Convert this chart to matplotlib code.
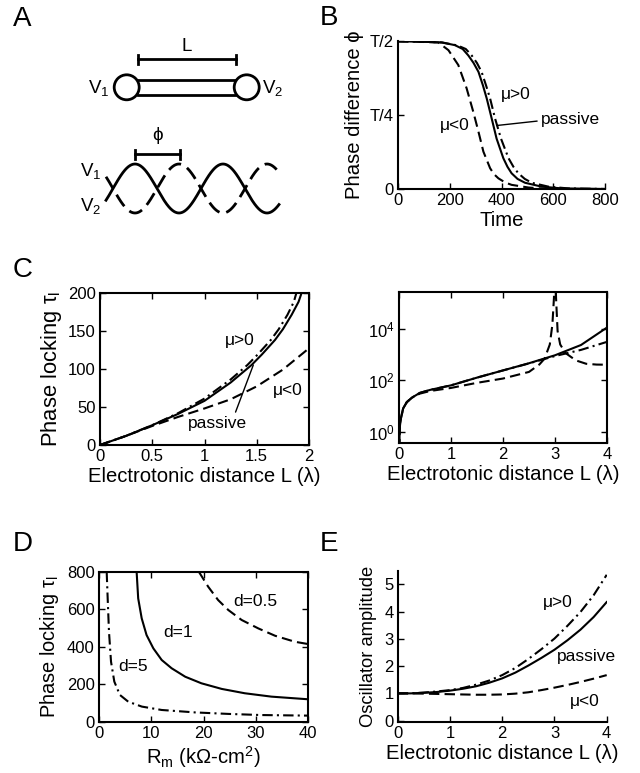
import numpy as np
import matplotlib

matplotlib.use("Agg")
import matplotlib.pyplot as plt
from matplotlib.patches import Circle
from matplotlib.ticker import NullLocator

plt.rcParams["font.family"] = ["Liberation Sans", "DejaVu Sans"]
plt.rcParams["mathtext.fontset"] = "custom"
plt.rcParams["mathtext.rm"] = "Liberation Sans"
plt.rcParams["mathtext.it"] = "Liberation Sans:italic"
plt.rcParams["xtick.direction"] = "in"
plt.rcParams["ytick.direction"] = "in"

TICK_FS = 12
LABEL_FS = 14.6
NOTE_FS = 12.5
LETTER_FS = 20
LW = 1.5
DASH = (5, 2.5)
DASHDOT = (5, 2, 1, 2)

# ---- panel B: phase difference (units of T) vs time
b_t_neg = [0, 60, 120, 156, 195, 233, 265, 291, 311, 330, 356, 371, 388, 414, 439, 504, 568, 650, 800]
b_phi_neg = [0.498, 0.497, 0.495, 0.494, 0.468, 0.418, 0.340, 0.260, 0.193, 0.126, 0.070, 0.050,
             0.036, 0.022, 0.014, 0.005, 0.001, 0.0, 0.0]
b_t_pas = [0, 60, 117, 170, 220, 250, 272, 292, 311, 328, 343, 362, 381, 407, 423, 439, 462, 491, 555, 633, 800]
b_phi_pas = [0.498, 0.497, 0.496, 0.494, 0.485, 0.472, 0.450, 0.425, 0.395, 0.350, 0.305, 0.238,
             0.170, 0.104, 0.075, 0.053, 0.034, 0.021, 0.008, 0.002, 0.0]
b_t_pos = [0, 60, 117, 170, 230, 262, 285, 305, 323, 340, 356, 375, 398, 427, 446, 465, 490, 517, 581, 658, 800]
b_phi_pos = [0.498, 0.497, 0.496, 0.494, 0.484, 0.472, 0.450, 0.425, 0.395, 0.350, 0.305, 0.238,
             0.170, 0.104, 0.075, 0.053, 0.034, 0.021, 0.008, 0.002, 0.0]

# ---- panel C left: phase locking tau vs L (linear)
c_L = [0, 0.25, 0.5, 0.75, 1.0, 1.25, 1.45, 1.55, 1.675, 1.75, 1.834, 1.9, 1.93]
c_tau_pas = [0, 12, 26, 41, 58, 82, 105, 119, 138, 152, 171, 188, 200]
c_L_pos = [0, 0.25, 0.5, 0.75, 1.0, 1.25, 1.41, 1.51, 1.635, 1.71, 1.794, 1.855, 1.88]
c_tau_pos = [0, 12, 26, 42, 61, 86, 105, 119, 138, 152, 171, 188, 200]
c_L_neg = [0, 0.25, 0.5, 0.75, 1.0, 1.25, 1.5, 1.75, 2.0]
c_tau_neg = [0, 12, 25, 37, 48, 60, 77, 99, 127]

# ---- panel C right: phase locking tau vs L (log)
cr_L_pas = [0, 0.02, 0.04, 0.08, 0.15, 0.25, 0.4, 0.6, 1.0, 1.5, 2.0, 2.5, 3.0, 3.5, 4.0]
cr_tau_pas = [0.2, 2, 3.5, 8, 14, 21, 32, 42, 63, 126, 240, 457, 933, 2340, 11200]
cr_L_pos = [0, 0.02, 0.04, 0.08, 0.15, 0.25, 0.4, 0.6, 1.0, 1.5, 2.0, 2.5, 3.0, 3.5, 4.0]
cr_tau_pos = [0.2, 2, 3.5, 8, 14, 21, 32, 42, 63, 126, 240, 450, 870, 1510, 3100]
cr_L_neg = [0, 0.02, 0.04, 0.08, 0.15, 0.25, 0.4, 0.6, 1.0, 1.5, 2.0, 2.5, 2.7, 2.8, 2.9, 2.95, 2.98,
            3.0, 3.02, 3.05, 3.1, 3.2, 3.4, 3.6, 3.8, 4.0]
cr_tau_neg = [0.2, 2, 3.5, 8, 14, 21, 30, 38, 50, 79, 116, 210, 410, 690, 2450, 14800, 1.6e5,
              1e7, 1.6e5, 8100, 2450, 1150, 590, 435, 405, 400]

# ---- panel D: phase locking vs Rm for three diameters
d_rm_1 = [7.2, 7.5, 8.17, 9.1, 10.4, 12.0, 13.9, 16.5, 19.6, 23.5, 27.9, 33.0, 40]
d_tau_1 = [800, 658, 552, 463, 392, 330, 286, 241, 206, 176, 153, 135, 121]
d_rm_05 = [19.1, 20.9, 22.8, 24.75, 27.3, 30.5, 33.7, 37.5, 40]
d_tau_05 = [800, 720, 649, 596, 543, 498, 459, 427, 415]
d_rm_5 = [1.47, 1.66, 1.91, 2.3, 2.93, 4.0, 5.6, 8.2, 12, 18.4, 24.8, 31.1, 40]
d_tau_5 = [800, 658, 481, 321, 215, 144, 108, 82, 64, 51, 43, 37, 34]

# ---- panel E: oscillator amplitude vs L
e_L = [0, 0.25, 0.5, 0.75, 1.0, 1.25, 1.5, 1.75, 2.0, 2.25, 2.5, 2.75, 3.0, 3.25, 3.5, 3.75, 4.0]
e_amp_pas = [1.0, 1.0, 1.02, 1.05, 1.1, 1.17, 1.26, 1.39, 1.55, 1.76, 2.02, 2.3, 2.6, 2.95, 3.34, 3.8, 4.35]
e_amp_pos = [1.0, 1.0, 1.03, 1.07, 1.12, 1.2, 1.32, 1.47, 1.67, 1.93, 2.26, 2.62, 3.01, 3.48, 3.99, 4.6, 5.35]
e_amp_neg = [1.0, 1.0, 0.99, 0.98, 0.97, 0.96, 0.95, 0.95, 0.96, 0.99, 1.04, 1.12, 1.21, 1.31, 1.42, 1.54, 1.67]

W, H = 640, 773
fig = plt.figure(figsize=(W / 100, H / 100), dpi=100)


def px_axes(x0, y0, x1, y1):
    return fig.add_axes([x0 / W, 1 - y1 / H, (x1 - x0) / W, (y1 - y0) / H])


def style(ax, boxed):
    for s in ax.spines.values():
        s.set_linewidth(1.5)
    if not boxed:
        ax.spines["top"].set_visible(False)
        ax.spines["right"].set_visible(False)
    ax.tick_params(labelsize=TICK_FS, length=4, width=1, top=boxed, right=boxed, pad=3)


# ---- schematic (panel A) in pixel coordinates
sk = fig.add_axes([0, 0, 1, 1])
sk.set_xlim(0, W)
sk.set_ylim(H, 0)
sk.axis("off")

cable_y, r = 87.3, 12.5
c1x, c2x = 126.7, 246.7
sk.add_patch(Circle((c1x, cable_y), r, fill=False, lw=2))
sk.add_patch(Circle((c2x, cable_y), r, fill=False, lw=2))
for dy in (-7.3, 7.3):
    sk.plot([c1x + r * 0.9, c2x - r * 0.9], [cable_y + dy] * 2, color="k", lw=2)
sk.plot([138, 235.7], [59.3, 59.3], color="k", lw=2)
for bx in (138, 235.7):
    sk.plot([bx, bx], [55, 64], color="k", lw=2)
sk.text(186.7, 51, "L", fontsize=13.5, ha="center", va="baseline")
sk.text(109, 93, "V$_\\mathregular{1}$", fontsize=13.5, ha="right", va="baseline")
sk.text(262, 93, "V$_\\mathregular{2}$", fontsize=13.5, ha="left", va="baseline")

# schematic waves
period, amp, mid = 88.0, 24.5, 188.5
xs = np.linspace(106, 279, 400)
sk.plot(xs, mid - amp * np.cos(2 * np.pi * (xs - 135) / period), color="k", lw=2)
sk.plot(xs, mid + amp * np.cos(2 * np.pi * (xs - 135) / period), color="k", lw=2,
        dashes=(5, 2.5))
sk.plot([135, 180], [154, 154], color="k", lw=2)
for bx in (135, 180):
    sk.plot([bx, bx], [149.5, 158.5], color="k", lw=2)
sk.text(157.5, 140, "ϕ", fontsize=13.5, ha="center", va="baseline")
sk.text(80, 176, "V$_\\mathregular{1}$", fontsize=13.5, ha="left", va="baseline")
sk.text(80, 211, "V$_\\mathregular{2}$", fontsize=13.5, ha="left", va="baseline")

for letter, lx, ly in [("A", 13, 26), ("B", 320, 25), ("C", 13, 277), ("D", 13, 551), ("E", 320, 551)]:
    sk.text(lx, ly, letter, fontsize=LETTER_FS, ha="left", va="baseline")

# ---- panel B
axb = px_axes(398, 40.7, 605, 189)
axb.plot(b_t_pas, b_phi_pas, color="k", lw=LW)
axb.plot(b_t_pos, b_phi_pos, color="k", lw=LW, dashes=DASHDOT)
axb.plot(b_t_neg, b_phi_neg, color="k", lw=LW, dashes=DASH)
axb.set_xlim(0, 800)
axb.set_ylim(0, 0.5)
axb.set_xticks([0, 200, 400, 600, 800])
axb.set_yticks([0, 0.25, 0.5])
axb.set_yticklabels(["0", "T/4", "T/2"])
style(axb, boxed=False)
axb.set_xlabel("Time", fontsize=LABEL_FS, labelpad=2)
axb.set_ylabel("Phase difference ϕ", fontsize=LABEL_FS, labelpad=4)
axb.text(454, 0.32, "μ>0", fontsize=NOTE_FS, ha="center", va="center")
axb.text(220, 0.2125, "μ<0", fontsize=NOTE_FS, ha="center", va="center")
axb.annotate("passive", xy=(381, 0.214), xytext=(668, 0.233), fontsize=NOTE_FS,
             ha="center", va="center",
             arrowprops=dict(arrowstyle="-", lw=1, color="k", shrinkA=1, shrinkB=0,
                             relpos=(0.0, 0.45)))

# ---- panel C left
axc = px_axes(100, 292.7, 309, 445)
axc.plot(c_L, c_tau_pas, color="k", lw=LW)
axc.plot(c_L_pos, c_tau_pos, color="k", lw=LW, dashes=DASHDOT)
axc.plot(c_L_neg, c_tau_neg, color="k", lw=LW, dashes=DASH)
axc.set_xlim(0, 2)
axc.set_ylim(0, 200)
axc.set_xticks([0, 0.5, 1, 1.5, 2])
axc.set_xticklabels(["0", "0.5", "1", "1.5", "2"])
axc.set_yticks([0, 50, 100, 150, 200])
style(axc, boxed=True)
axc.set_xlabel("Electrotonic distance L (λ)", fontsize=LABEL_FS, labelpad=2)
axc.set_ylabel("Phase locking τ$_\\mathregular{l}$", fontsize=15.8, labelpad=3)
axc.text(1.34, 137, "μ>0", fontsize=NOTE_FS, ha="center", va="center")
axc.text(1.794, 71, "μ<0", fontsize=NOTE_FS, ha="center", va="center")
axc.annotate("passive", xy=(1.467, 105), xytext=(1.124, 28), fontsize=NOTE_FS,
             ha="center", va="center",
             arrowprops=dict(arrowstyle="-", lw=1, color="k", shrinkA=1, shrinkB=0,
                             relpos=(0.78, 1.0)))

# ---- panel C right
axr = px_axes(399, 292, 607, 443)
axr.plot(cr_L_pas, cr_tau_pas, color="k", lw=LW)
axr.plot(cr_L_pos, cr_tau_pos, color="k", lw=LW, dashes=DASHDOT)
axr.plot(cr_L_neg, cr_tau_neg, color="k", lw=LW, dashes=DASH)
axr.set_yscale("log")
axr.set_xlim(0, 4)
axr.set_ylim(0.36, 2.7e5)
axr.set_xticks([0, 1, 2, 3, 4])
axr.set_yticks([1, 100, 10000])
axr.set_yticklabels(["$\\mathregular{10^0}$", "$\\mathregular{10^2}$", "$\\mathregular{10^4}$"])
axr.yaxis.set_minor_locator(NullLocator())
style(axr, boxed=True)
axr.set_xlabel("Electrotonic distance L (λ)", fontsize=LABEL_FS, labelpad=2)

# ---- panel D
axd = px_axes(99, 571.7, 308, 722)
axd.plot(d_rm_1, d_tau_1, color="k", lw=LW)
axd.plot(d_rm_05, d_tau_05, color="k", lw=LW, dashes=DASH)
axd.plot(d_rm_5, d_tau_5, color="k", lw=LW, dashes=DASHDOT)
axd.set_xlim(0, 40)
axd.set_ylim(0, 800)
axd.set_xticks([0, 10, 20, 30, 40])
axd.set_yticks([0, 200, 400, 600, 800])
style(axd, boxed=True)
axd.set_xlabel("R$_\\mathregular{m}$ (kΩ-cm$^\\mathregular{2}$)", fontsize=LABEL_FS, labelpad=2)
axd.set_ylabel("Phase locking τ$_\\mathregular{l}$", fontsize=14.4, labelpad=4)
axd.text(25.6, 639, "d=0.5", fontsize=NOTE_FS, ha="left", va="center")
axd.text(12.25, 479, "d=1", fontsize=NOTE_FS, ha="left", va="center")
axd.text(3.64, 298, "d=5", fontsize=NOTE_FS, ha="left", va="center")

# ---- panel E
axe = px_axes(397.7, 570.7, 606.7, 722)
axe.plot(e_L, e_amp_pas, color="k", lw=LW)
axe.plot(e_L, e_amp_pos, color="k", lw=LW, dashes=DASHDOT)
axe.plot(e_L, e_amp_neg, color="k", lw=LW, dashes=DASH)
axe.set_xlim(0, 4)
axe.set_ylim(-0.05, 5.5)
axe.set_xticks([0, 1, 2, 3, 4])
axe.set_yticks([0, 1, 2, 3, 4, 5])
style(axe, boxed=False)
axe.set_xlabel("Electrotonic distance L (λ)", fontsize=LABEL_FS, labelpad=2)
axe.set_ylabel("Oscillator amplitude", fontsize=13.2, labelpad=5)
axe.text(2.78, 4.33, "μ>0", fontsize=NOTE_FS, ha="left", va="center")
axe.text(3.05, 2.35, "passive", fontsize=NOTE_FS, ha="left", va="center")
axe.text(3.3, 0.72, "μ<0", fontsize=NOTE_FS, ha="left", va="center")

fig.savefig("out.png", dpi=100)
